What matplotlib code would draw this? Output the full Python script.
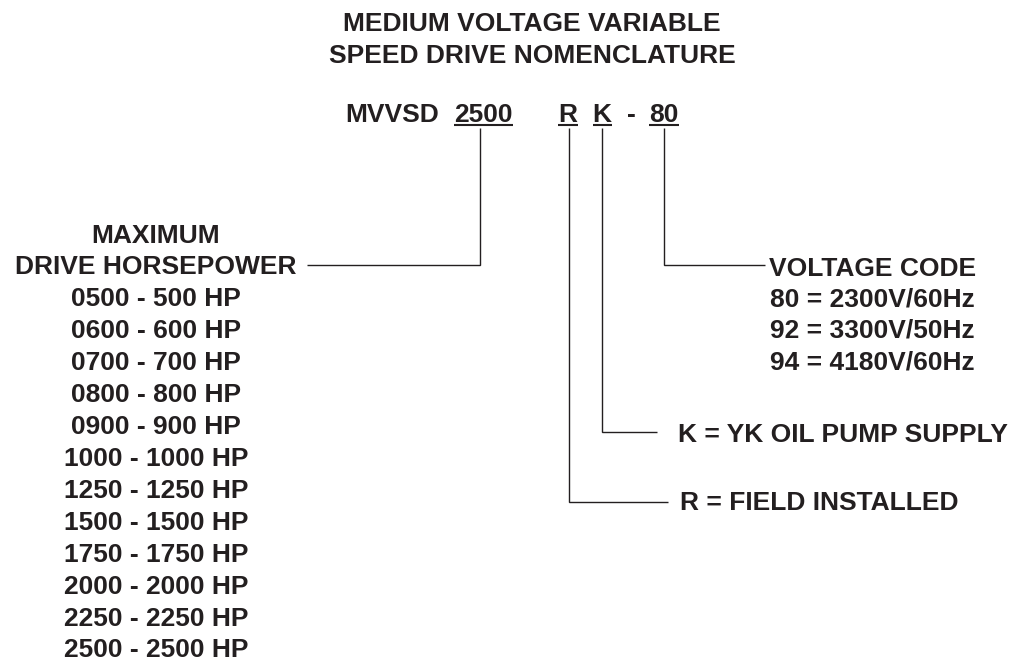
import matplotlib
matplotlib.use("Agg")
import matplotlib.pyplot as plt

title_lines = ["MEDIUM VOLTAGE VARIABLE", "SPEED DRIVE NOMENCLATURE"]
hp_codes = ["0500", "0600", "0700", "0800", "0900", "1000", "1250",
            "1500", "1750", "2000", "2250", "2500"]
hp_values = [500, 600, 700, 800, 900, 1000, 1250, 1500, 1750, 2000, 2250, 2500]
voltage_codes = ["80", "92", "94"]
voltage_labels = ["2300V/60Hz", "3300V/50Hz", "4180V/60Hz"]

C = "#231f20"
FONT = "Liberation Sans"
FS = 19

fig = plt.figure(figsize=(10.27, 6.61), dpi=100)
ax = fig.add_axes([0, 0, 1, 1])
ax.set_xlim(0, 1027)
ax.set_ylim(661, 0)
ax.axis("off")

def txt(x, y, s, ha="center"):
    ax.text(x, y, s, ha=ha, va="baseline", fontsize=FS,
            fontweight="bold", family=FONT, color=C)

def line(xs, ys, lw=1.0):
    ax.plot(xs, ys, color=C, lw=lw, solid_capstyle="butt",
            solid_joinstyle="miter")

# title
for i, t in enumerate(title_lines):
    txt(532, 31 + 32 * i, t)

# code line
ycode = 122
txt(345, ycode, "MVVSD", ha="left")
txt(483.5, ycode, "2500")
txt(567.5, ycode, "R")
txt(602, ycode, "K")
txt(631.5, ycode, "-")
txt(663.5, ycode, "80")
for x0, x1 in [(454, 513), (558, 578), (593, 612), (649, 679)]:
    line([x0, x1], [125, 125], lw=1.5)

# horsepower branch
line([480, 480, 307], [128, 265, 265])
txt(156, 243, "MAXIMUM")
txt(156, 274.5, "DRIVE HORSEPOWER")
for i, (c, v) in enumerate(zip(hp_codes, hp_values)):
    txt(156, 306.5 + 31.9 * i, f"{c} - {v} HP")

# voltage branch
line([664, 664, 765], [128, 265, 265])
txt(873, 276.5, "VOLTAGE CODE")
for i, (c, v) in enumerate(zip(voltage_codes, voltage_labels)):
    txt(872, 306.5 + 31.5 * i, f"{c} = {v}")

# K branch
line([602, 602, 657], [128, 432, 432])
txt(678, 441.5, "K = YK OIL PUMP SUPPLY", ha="left")

# R branch
line([569, 569, 668], [128, 502, 502])
txt(680, 510.5, "R = FIELD INSTALLED", ha="left")

fig.savefig("out.png", dpi=100, facecolor="white")
